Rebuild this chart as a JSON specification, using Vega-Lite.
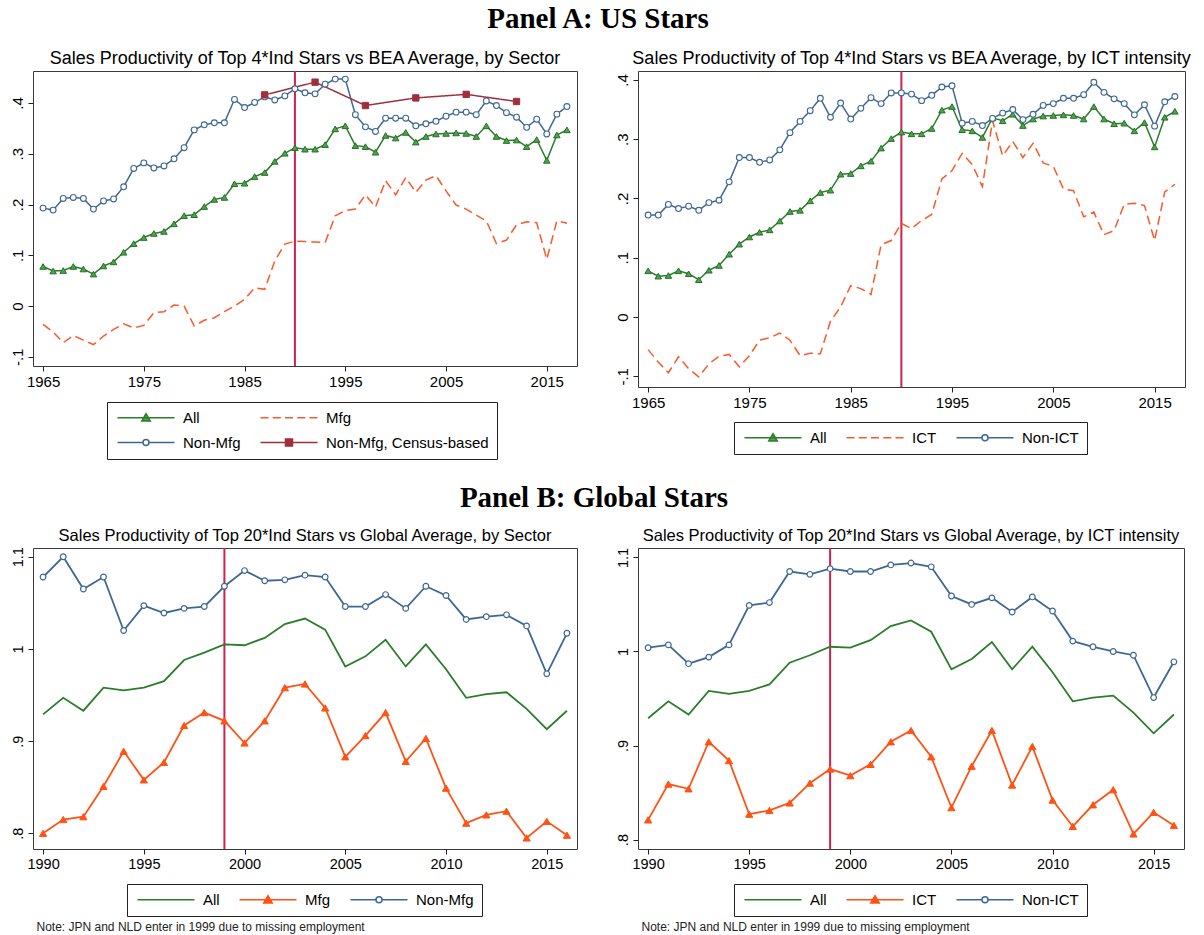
{
  "$schema": "https://vega.github.io/schema/vega-lite/v6.json",
  "background": "white",
  "padding": {"left": 9, "top": 5, "right": 4, "bottom": 2},
  "config": {
    "font": "Liberation Sans",
    "view": {"stroke": "#3a3a3a", "strokeWidth": 1},
    "axis": {"grid": false, "domain": false, "ticks": true, "tickSize": 5, "tickColor": "#222", "tickWidth": 1, "labelColor": "black", "labelFontSize": 15, "labelFont": "Liberation Sans", "labelPadding": 3},
    "title": {"font": "Liberation Sans", "fontWeight": "normal", "color": "black"},
    "legend": {"labelFont": "Liberation Sans", "labelFontSize": 15, "labelColor": "black", "strokeColor": "#222", "fillColor": "white", "padding": 8, "symbolSize": 100, "symbolStrokeWidth": 1.5, "symbolOpacity": 1, "labelOffset": 53, "columnPadding": 16, "rowPadding": 9, "labelLimit": 300}
  },
  "datasets": {
    "usAll": [
      {"year":1965,"series":"All","value":0.078},{"year":1966,"series":"All","value":0.069},{"year":1967,"series":"All","value":0.070},{"year":1968,"series":"All","value":0.078},{"year":1969,"series":"All","value":0.073},
      {"year":1970,"series":"All","value":0.063},{"year":1971,"series":"All","value":0.079},{"year":1972,"series":"All","value":0.087},{"year":1973,"series":"All","value":0.106},{"year":1974,"series":"All","value":0.123},
      {"year":1975,"series":"All","value":0.135},{"year":1976,"series":"All","value":0.143},{"year":1977,"series":"All","value":0.147},{"year":1978,"series":"All","value":0.162},{"year":1979,"series":"All","value":0.178},
      {"year":1980,"series":"All","value":0.180},{"year":1981,"series":"All","value":0.196},{"year":1982,"series":"All","value":0.210},{"year":1983,"series":"All","value":0.214},{"year":1984,"series":"All","value":0.241},
      {"year":1985,"series":"All","value":0.242},{"year":1986,"series":"All","value":0.255},{"year":1987,"series":"All","value":0.263},{"year":1988,"series":"All","value":0.285},{"year":1989,"series":"All","value":0.301},
      {"year":1990,"series":"All","value":0.312},{"year":1991,"series":"All","value":0.309},{"year":1992,"series":"All","value":0.309},{"year":1993,"series":"All","value":0.318},{"year":1994,"series":"All","value":0.349},
      {"year":1995,"series":"All","value":0.355},{"year":1996,"series":"All","value":0.316},{"year":1997,"series":"All","value":0.314},{"year":1998,"series":"All","value":0.303},{"year":1999,"series":"All","value":0.336},
      {"year":2000,"series":"All","value":0.331},{"year":2001,"series":"All","value":0.342},{"year":2002,"series":"All","value":0.323},{"year":2003,"series":"All","value":0.334},{"year":2004,"series":"All","value":0.339},
      {"year":2005,"series":"All","value":0.340},{"year":2006,"series":"All","value":0.341},{"year":2007,"series":"All","value":0.340},{"year":2008,"series":"All","value":0.334},{"year":2009,"series":"All","value":0.355},
      {"year":2010,"series":"All","value":0.334},{"year":2011,"series":"All","value":0.326},{"year":2012,"series":"All","value":0.327},{"year":2013,"series":"All","value":0.314},{"year":2014,"series":"All","value":0.328},
      {"year":2015,"series":"All","value":0.287},{"year":2016,"series":"All","value":0.337},{"year":2017,"series":"All","value":0.347}
    ],
    "usSector": [
      {"year":1965,"series":"Mfg","value":-0.036},{"year":1966,"series":"Mfg","value":-0.051},{"year":1967,"series":"Mfg","value":-0.072},{"year":1968,"series":"Mfg","value":-0.058},{"year":1969,"series":"Mfg","value":-0.067},
      {"year":1970,"series":"Mfg","value":-0.076},{"year":1971,"series":"Mfg","value":-0.059},{"year":1972,"series":"Mfg","value":-0.046},{"year":1973,"series":"Mfg","value":-0.035},{"year":1974,"series":"Mfg","value":-0.043},
      {"year":1975,"series":"Mfg","value":-0.038},{"year":1976,"series":"Mfg","value":-0.013},{"year":1977,"series":"Mfg","value":-0.011},{"year":1978,"series":"Mfg","value":0.002},{"year":1979,"series":"Mfg","value":0.000},
      {"year":1980,"series":"Mfg","value":-0.039},{"year":1981,"series":"Mfg","value":-0.028},{"year":1982,"series":"Mfg","value":-0.023},{"year":1983,"series":"Mfg","value":-0.011},{"year":1984,"series":"Mfg","value":0.000},
      {"year":1985,"series":"Mfg","value":0.013},{"year":1986,"series":"Mfg","value":0.036},{"year":1987,"series":"Mfg","value":0.033},{"year":1988,"series":"Mfg","value":0.089},{"year":1989,"series":"Mfg","value":0.122},
      {"year":1990,"series":"Mfg","value":0.128},{"year":1991,"series":"Mfg","value":0.127},{"year":1992,"series":"Mfg","value":0.126},{"year":1993,"series":"Mfg","value":0.125},{"year":1994,"series":"Mfg","value":0.178},
      {"year":1995,"series":"Mfg","value":0.188},{"year":1996,"series":"Mfg","value":0.191},{"year":1997,"series":"Mfg","value":0.219},{"year":1998,"series":"Mfg","value":0.195},{"year":1999,"series":"Mfg","value":0.247},
      {"year":2000,"series":"Mfg","value":0.219},{"year":2001,"series":"Mfg","value":0.253},{"year":2002,"series":"Mfg","value":0.224},{"year":2003,"series":"Mfg","value":0.248},{"year":2004,"series":"Mfg","value":0.257},
      {"year":2005,"series":"Mfg","value":0.227},{"year":2006,"series":"Mfg","value":0.199},{"year":2007,"series":"Mfg","value":0.191},{"year":2008,"series":"Mfg","value":0.179},{"year":2009,"series":"Mfg","value":0.168},
      {"year":2010,"series":"Mfg","value":0.123},{"year":2011,"series":"Mfg","value":0.130},{"year":2012,"series":"Mfg","value":0.160},{"year":2013,"series":"Mfg","value":0.166},{"year":2014,"series":"Mfg","value":0.164},
      {"year":2015,"series":"Mfg","value":0.092},{"year":2016,"series":"Mfg","value":0.168},{"year":2017,"series":"Mfg","value":0.163},
      {"year":1965,"series":"Non-Mfg","value":0.193},{"year":1966,"series":"Non-Mfg","value":0.189},{"year":1967,"series":"Non-Mfg","value":0.212},{"year":1968,"series":"Non-Mfg","value":0.214},{"year":1969,"series":"Non-Mfg","value":0.212},
      {"year":1970,"series":"Non-Mfg","value":0.191},{"year":1971,"series":"Non-Mfg","value":0.207},{"year":1972,"series":"Non-Mfg","value":0.211},{"year":1973,"series":"Non-Mfg","value":0.235},{"year":1974,"series":"Non-Mfg","value":0.271},
      {"year":1975,"series":"Non-Mfg","value":0.282},{"year":1976,"series":"Non-Mfg","value":0.272},{"year":1977,"series":"Non-Mfg","value":0.276},{"year":1978,"series":"Non-Mfg","value":0.290},{"year":1979,"series":"Non-Mfg","value":0.312},
      {"year":1980,"series":"Non-Mfg","value":0.347},{"year":1981,"series":"Non-Mfg","value":0.357},{"year":1982,"series":"Non-Mfg","value":0.361},{"year":1983,"series":"Non-Mfg","value":0.361},{"year":1984,"series":"Non-Mfg","value":0.407},
      {"year":1985,"series":"Non-Mfg","value":0.391},{"year":1986,"series":"Non-Mfg","value":0.401},{"year":1987,"series":"Non-Mfg","value":0.412},{"year":1988,"series":"Non-Mfg","value":0.406},{"year":1989,"series":"Non-Mfg","value":0.414},
      {"year":1990,"series":"Non-Mfg","value":0.428},{"year":1991,"series":"Non-Mfg","value":0.420},{"year":1992,"series":"Non-Mfg","value":0.418},{"year":1993,"series":"Non-Mfg","value":0.437},{"year":1994,"series":"Non-Mfg","value":0.447},
      {"year":1995,"series":"Non-Mfg","value":0.447},{"year":1996,"series":"Non-Mfg","value":0.377},{"year":1997,"series":"Non-Mfg","value":0.353},{"year":1998,"series":"Non-Mfg","value":0.344},{"year":1999,"series":"Non-Mfg","value":0.370},
      {"year":2000,"series":"Non-Mfg","value":0.370},{"year":2001,"series":"Non-Mfg","value":0.370},{"year":2002,"series":"Non-Mfg","value":0.355},{"year":2003,"series":"Non-Mfg","value":0.359},{"year":2004,"series":"Non-Mfg","value":0.364},
      {"year":2005,"series":"Non-Mfg","value":0.374},{"year":2006,"series":"Non-Mfg","value":0.382},{"year":2007,"series":"Non-Mfg","value":0.382},{"year":2008,"series":"Non-Mfg","value":0.377},{"year":2009,"series":"Non-Mfg","value":0.404},
      {"year":2010,"series":"Non-Mfg","value":0.395},{"year":2011,"series":"Non-Mfg","value":0.381},{"year":2012,"series":"Non-Mfg","value":0.372},{"year":2013,"series":"Non-Mfg","value":0.352},{"year":2014,"series":"Non-Mfg","value":0.368},
      {"year":2015,"series":"Non-Mfg","value":0.339},{"year":2016,"series":"Non-Mfg","value":0.378},{"year":2017,"series":"Non-Mfg","value":0.393},
      {"year":1987,"series":"Non-Mfg, Census-based","value":0.416},{"year":1992,"series":"Non-Mfg, Census-based","value":0.441},{"year":1997,"series":"Non-Mfg, Census-based","value":0.395},
      {"year":2002,"series":"Non-Mfg, Census-based","value":0.410},{"year":2007,"series":"Non-Mfg, Census-based","value":0.417},{"year":2012,"series":"Non-Mfg, Census-based","value":0.403}
    ],
    "usIct": [
      {"year":1965,"series":"ICT","value":-0.055},{"year":1966,"series":"ICT","value":-0.076},{"year":1967,"series":"ICT","value":-0.094},{"year":1968,"series":"ICT","value":-0.067},{"year":1969,"series":"ICT","value":-0.087},
      {"year":1970,"series":"ICT","value":-0.101},{"year":1971,"series":"ICT","value":-0.079},{"year":1972,"series":"ICT","value":-0.066},{"year":1973,"series":"ICT","value":-0.063},{"year":1974,"series":"ICT","value":-0.084},
      {"year":1975,"series":"ICT","value":-0.065},{"year":1976,"series":"ICT","value":-0.039},{"year":1977,"series":"ICT","value":-0.035},{"year":1978,"series":"ICT","value":-0.027},{"year":1979,"series":"ICT","value":-0.039},
      {"year":1980,"series":"ICT","value":-0.065},{"year":1981,"series":"ICT","value":-0.061},{"year":1982,"series":"ICT","value":-0.062},{"year":1983,"series":"ICT","value":-0.007},{"year":1984,"series":"ICT","value":0.017},
      {"year":1985,"series":"ICT","value":0.053},{"year":1986,"series":"ICT","value":0.048},{"year":1987,"series":"ICT","value":0.038},{"year":1988,"series":"ICT","value":0.122},{"year":1989,"series":"ICT","value":0.129},
      {"year":1990,"series":"ICT","value":0.158},{"year":1991,"series":"ICT","value":0.149},{"year":1992,"series":"ICT","value":0.163},{"year":1993,"series":"ICT","value":0.173},{"year":1994,"series":"ICT","value":0.233},
      {"year":1995,"series":"ICT","value":0.247},{"year":1996,"series":"ICT","value":0.276},{"year":1997,"series":"ICT","value":0.257},{"year":1998,"series":"ICT","value":0.220},{"year":1999,"series":"ICT","value":0.331},
      {"year":2000,"series":"ICT","value":0.272},{"year":2001,"series":"ICT","value":0.296},{"year":2002,"series":"ICT","value":0.269},{"year":2003,"series":"ICT","value":0.293},{"year":2004,"series":"ICT","value":0.260},
      {"year":2005,"series":"ICT","value":0.254},{"year":2006,"series":"ICT","value":0.216},{"year":2007,"series":"ICT","value":0.213},{"year":2008,"series":"ICT","value":0.169},{"year":2009,"series":"ICT","value":0.177},
      {"year":2010,"series":"ICT","value":0.139},{"year":2011,"series":"ICT","value":0.146},{"year":2012,"series":"ICT","value":0.190},{"year":2013,"series":"ICT","value":0.192},{"year":2014,"series":"ICT","value":0.188},
      {"year":2015,"series":"ICT","value":0.129},{"year":2016,"series":"ICT","value":0.211},{"year":2017,"series":"ICT","value":0.224},
      {"year":1965,"series":"Non-ICT","value":0.172},{"year":1966,"series":"Non-ICT","value":0.172},{"year":1967,"series":"Non-ICT","value":0.190},{"year":1968,"series":"Non-ICT","value":0.183},{"year":1969,"series":"Non-ICT","value":0.187},
      {"year":1970,"series":"Non-ICT","value":0.180},{"year":1971,"series":"Non-ICT","value":0.193},{"year":1972,"series":"Non-ICT","value":0.197},{"year":1973,"series":"Non-ICT","value":0.228},{"year":1974,"series":"Non-ICT","value":0.269},
      {"year":1975,"series":"Non-ICT","value":0.269},{"year":1976,"series":"Non-ICT","value":0.261},{"year":1977,"series":"Non-ICT","value":0.265},{"year":1978,"series":"Non-ICT","value":0.282},{"year":1979,"series":"Non-ICT","value":0.311},
      {"year":1980,"series":"Non-ICT","value":0.330},{"year":1981,"series":"Non-ICT","value":0.348},{"year":1982,"series":"Non-ICT","value":0.369},{"year":1983,"series":"Non-ICT","value":0.337},{"year":1984,"series":"Non-ICT","value":0.361},
      {"year":1985,"series":"Non-ICT","value":0.334},{"year":1986,"series":"Non-ICT","value":0.352},{"year":1987,"series":"Non-ICT","value":0.370},{"year":1988,"series":"Non-ICT","value":0.360},{"year":1989,"series":"Non-ICT","value":0.378},
      {"year":1990,"series":"Non-ICT","value":0.378},{"year":1991,"series":"Non-ICT","value":0.376},{"year":1992,"series":"Non-ICT","value":0.365},{"year":1993,"series":"Non-ICT","value":0.374},{"year":1994,"series":"Non-ICT","value":0.388},
      {"year":1995,"series":"Non-ICT","value":0.390},{"year":1996,"series":"Non-ICT","value":0.327},{"year":1997,"series":"Non-ICT","value":0.330},{"year":1998,"series":"Non-ICT","value":0.323},{"year":1999,"series":"Non-ICT","value":0.335},
      {"year":2000,"series":"Non-ICT","value":0.344},{"year":2001,"series":"Non-ICT","value":0.350},{"year":2002,"series":"Non-ICT","value":0.333},{"year":2003,"series":"Non-ICT","value":0.342},{"year":2004,"series":"Non-ICT","value":0.357},
      {"year":2005,"series":"Non-ICT","value":0.360},{"year":2006,"series":"Non-ICT","value":0.369},{"year":2007,"series":"Non-ICT","value":0.369},{"year":2008,"series":"Non-ICT","value":0.375},{"year":2009,"series":"Non-ICT","value":0.396},
      {"year":2010,"series":"Non-ICT","value":0.379},{"year":2011,"series":"Non-ICT","value":0.368},{"year":2012,"series":"Non-ICT","value":0.360},{"year":2013,"series":"Non-ICT","value":0.341},{"year":2014,"series":"Non-ICT","value":0.358},
      {"year":2015,"series":"Non-ICT","value":0.322},{"year":2016,"series":"Non-ICT","value":0.363},{"year":2017,"series":"Non-ICT","value":0.372}
    ],
    "glAll": [
      {"year":1990,"series":"All","value":0.929},{"year":1991,"series":"All","value":0.947},{"year":1992,"series":"All","value":0.933},{"year":1993,"series":"All","value":0.958},{"year":1994,"series":"All","value":0.955},
      {"year":1995,"series":"All","value":0.958},{"year":1996,"series":"All","value":0.965},{"year":1997,"series":"All","value":0.988},{"year":1998,"series":"All","value":0.996},{"year":1999,"series":"All","value":1.005},
      {"year":2000,"series":"All","value":1.004},{"year":2001,"series":"All","value":1.012},{"year":2002,"series":"All","value":1.027},{"year":2003,"series":"All","value":1.033},{"year":2004,"series":"All","value":1.021},
      {"year":2005,"series":"All","value":0.981},{"year":2006,"series":"All","value":0.992},{"year":2007,"series":"All","value":1.010},{"year":2008,"series":"All","value":0.981},{"year":2009,"series":"All","value":1.005},
      {"year":2010,"series":"All","value":0.978},{"year":2011,"series":"All","value":0.947},{"year":2012,"series":"All","value":0.951},{"year":2013,"series":"All","value":0.953},{"year":2014,"series":"All","value":0.935},
      {"year":2015,"series":"All","value":0.913},{"year":2016,"series":"All","value":0.933}
    ],
    "glSector": [
      {"year":1990,"series":"Mfg","value":0.800},{"year":1991,"series":"Mfg","value":0.815},{"year":1992,"series":"Mfg","value":0.818},{"year":1993,"series":"Mfg","value":0.851},{"year":1994,"series":"Mfg","value":0.889},
      {"year":1995,"series":"Mfg","value":0.858},{"year":1996,"series":"Mfg","value":0.877},{"year":1997,"series":"Mfg","value":0.917},{"year":1998,"series":"Mfg","value":0.931},{"year":1999,"series":"Mfg","value":0.922},
      {"year":2000,"series":"Mfg","value":0.898},{"year":2001,"series":"Mfg","value":0.922},{"year":2002,"series":"Mfg","value":0.958},{"year":2003,"series":"Mfg","value":0.962},{"year":2004,"series":"Mfg","value":0.936},
      {"year":2005,"series":"Mfg","value":0.883},{"year":2006,"series":"Mfg","value":0.906},{"year":2007,"series":"Mfg","value":0.931},{"year":2008,"series":"Mfg","value":0.878},{"year":2009,"series":"Mfg","value":0.903},
      {"year":2010,"series":"Mfg","value":0.849},{"year":2011,"series":"Mfg","value":0.811},{"year":2012,"series":"Mfg","value":0.820},{"year":2013,"series":"Mfg","value":0.824},{"year":2014,"series":"Mfg","value":0.795},
      {"year":2015,"series":"Mfg","value":0.813},{"year":2016,"series":"Mfg","value":0.798},
      {"year":1990,"series":"Non-Mfg","value":1.078},{"year":1991,"series":"Non-Mfg","value":1.100},{"year":1992,"series":"Non-Mfg","value":1.065},{"year":1993,"series":"Non-Mfg","value":1.078},{"year":1994,"series":"Non-Mfg","value":1.020},
      {"year":1995,"series":"Non-Mfg","value":1.047},{"year":1996,"series":"Non-Mfg","value":1.039},{"year":1997,"series":"Non-Mfg","value":1.044},{"year":1998,"series":"Non-Mfg","value":1.046},{"year":1999,"series":"Non-Mfg","value":1.068},
      {"year":2000,"series":"Non-Mfg","value":1.085},{"year":2001,"series":"Non-Mfg","value":1.074},{"year":2002,"series":"Non-Mfg","value":1.075},{"year":2003,"series":"Non-Mfg","value":1.080},{"year":2004,"series":"Non-Mfg","value":1.078},
      {"year":2005,"series":"Non-Mfg","value":1.046},{"year":2006,"series":"Non-Mfg","value":1.046},{"year":2007,"series":"Non-Mfg","value":1.059},{"year":2008,"series":"Non-Mfg","value":1.044},{"year":2009,"series":"Non-Mfg","value":1.068},
      {"year":2010,"series":"Non-Mfg","value":1.058},{"year":2011,"series":"Non-Mfg","value":1.032},{"year":2012,"series":"Non-Mfg","value":1.035},{"year":2013,"series":"Non-Mfg","value":1.037},{"year":2014,"series":"Non-Mfg","value":1.025},
      {"year":2015,"series":"Non-Mfg","value":0.973},{"year":2016,"series":"Non-Mfg","value":1.017}
    ],
    "glIct": [
      {"year":1990,"series":"ICT","value":0.821},{"year":1991,"series":"ICT","value":0.859},{"year":1992,"series":"ICT","value":0.854},{"year":1993,"series":"ICT","value":0.904},{"year":1994,"series":"ICT","value":0.884},
      {"year":1995,"series":"ICT","value":0.827},{"year":1996,"series":"ICT","value":0.831},{"year":1997,"series":"ICT","value":0.839},{"year":1998,"series":"ICT","value":0.860},{"year":1999,"series":"ICT","value":0.875},
      {"year":2000,"series":"ICT","value":0.868},{"year":2001,"series":"ICT","value":0.880},{"year":2002,"series":"ICT","value":0.904},{"year":2003,"series":"ICT","value":0.916},{"year":2004,"series":"ICT","value":0.888},
      {"year":2005,"series":"ICT","value":0.834},{"year":2006,"series":"ICT","value":0.878},{"year":2007,"series":"ICT","value":0.916},{"year":2008,"series":"ICT","value":0.858},{"year":2009,"series":"ICT","value":0.899},
      {"year":2010,"series":"ICT","value":0.842},{"year":2011,"series":"ICT","value":0.814},{"year":2012,"series":"ICT","value":0.837},{"year":2013,"series":"ICT","value":0.853},{"year":2014,"series":"ICT","value":0.806},
      {"year":2015,"series":"ICT","value":0.829},{"year":2016,"series":"ICT","value":0.815},
      {"year":1990,"series":"Non-ICT","value":1.004},{"year":1991,"series":"Non-ICT","value":1.007},{"year":1992,"series":"Non-ICT","value":0.987},{"year":1993,"series":"Non-ICT","value":0.994},{"year":1994,"series":"Non-ICT","value":1.007},
      {"year":1995,"series":"Non-ICT","value":1.049},{"year":1996,"series":"Non-ICT","value":1.052},{"year":1997,"series":"Non-ICT","value":1.085},{"year":1998,"series":"Non-ICT","value":1.082},{"year":1999,"series":"Non-ICT","value":1.088},
      {"year":2000,"series":"Non-ICT","value":1.085},{"year":2001,"series":"Non-ICT","value":1.085},{"year":2002,"series":"Non-ICT","value":1.092},{"year":2003,"series":"Non-ICT","value":1.094},{"year":2004,"series":"Non-ICT","value":1.090},
      {"year":2005,"series":"Non-ICT","value":1.059},{"year":2006,"series":"Non-ICT","value":1.050},{"year":2007,"series":"Non-ICT","value":1.057},{"year":2008,"series":"Non-ICT","value":1.042},{"year":2009,"series":"Non-ICT","value":1.058},
      {"year":2010,"series":"Non-ICT","value":1.043},{"year":2011,"series":"Non-ICT","value":1.011},{"year":2012,"series":"Non-ICT","value":1.005},{"year":2013,"series":"Non-ICT","value":1.000},{"year":2014,"series":"Non-ICT","value":0.996},
      {"year":2015,"series":"Non-ICT","value":0.951},{"year":2016,"series":"Non-ICT","value":0.989}
    ]
  },
  "spacing": 24,
  "resolve": {"scale": {"x": "independent", "y": "independent", "color": "independent", "strokeDash": "independent", "shape": "independent", "fill": "independent", "stroke": "independent"}},
  "vconcat": [
    {
      "title": {"text": "Panel A: US Stars", "font": "Liberation Serif", "fontSize": 29, "fontWeight": "bold", "anchor": "middle", "baseline": "alphabetic", "offset": -7.5, "dx": -3},
      "spacing": 36,
      "resolve": {"scale": {"x": "independent", "y": "independent", "color": "independent", "strokeDash": "independent", "shape": "independent", "fill": "independent", "stroke": "independent"}},
      "hconcat": [
        {
          "width": 544,
          "height": 295,
          "title": {"text": "Sales Productivity of Top 4*Ind Stars vs BEA Average, by Sector", "fontSize": 18, "offset": -12, "baseline": "alphabetic", "frame": "group", "anchor": "middle"},
          "encoding": {
            "x": {"field": "year", "type": "quantitative", "scale": {"domain": [1964, 2018], "nice": false, "zero": false}, "axis": {"values": [1965, 1975, 1985, 1995, 2005, 2015], "format": "d", "title": null}}
          },
          "layer": [
            {"data": {"values": [{"year": 1990}]}, "mark": {"type": "rule", "color": "#cc2250", "strokeWidth": 2}, "encoding": {}},
            {
              "data": {"name": "usAll"},
              "mark": {"type": "line", "strokeWidth": 1.5, "color": "#2a7d2a"},
              "encoding": {
                "y": {"field": "value", "type": "quantitative", "scale": {"domain": [-0.118, 0.463], "nice": false, "zero": false}, "axis": {"values": [-0.1, 0, 0.1, 0.2, 0.3, 0.4], "labelAngle": 270, "labelExpr": "(datum.value < 0 ? '-' : '') + replace(format(abs(datum.value), '.1~f'), '0.', '.')", "title": null}}
              }
            },
            {
              "data": {"name": "usSector"},
              "mark": {"type": "line", "strokeWidth": 1.5},
              "encoding": {
                "y": {"field": "value", "type": "quantitative", "scale": {"domain": [-0.118, 0.463], "nice": false, "zero": false}},
                "color": {"field": "series", "type": "nominal", "scale": {"domain": ["Mfg", "Non-Mfg", "Non-Mfg, Census-based"], "range": ["#fa5a2a", "#3d6893", "#a02f3e"]}, "legend": null},
                "strokeDash": {"field": "series", "type": "nominal", "scale": {"domain": ["Mfg", "Non-Mfg", "Non-Mfg, Census-based"], "range": [[9, 5], [1, 0], [1, 0]]}, "legend": null}
              }
            },
            {
              "data": {"name": "usAll"},
              "mark": {"type": "point", "shape": "triangle-up", "filled": true, "fill": "#4fa34f", "stroke": "#237023", "strokeWidth": 1, "size": 42, "opacity": 1},
              "encoding": {"y": {"field": "value", "type": "quantitative", "scale": {"domain": [-0.118, 0.463], "nice": false, "zero": false}}}
            },
            {
              "data": {"name": "usSector"},
              "transform": [{"filter": "datum.series === 'Non-Mfg'"}],
              "mark": {"type": "point", "shape": "circle", "filled": true, "fill": "white", "stroke": "#3d6893", "strokeWidth": 1.1, "size": 34, "opacity": 1},
              "encoding": {"y": {"field": "value", "type": "quantitative", "scale": {"domain": [-0.118, 0.463], "nice": false, "zero": false}}}
            },
            {
              "data": {"name": "usSector"},
              "transform": [{"filter": "datum.series === 'Non-Mfg, Census-based'"}],
              "mark": {"type": "point", "shape": "square", "filled": true, "fill": "#a02f3e", "stroke": "#a02f3e", "strokeWidth": 1, "size": 40, "opacity": 1},
              "encoding": {"y": {"field": "value", "type": "quantitative", "scale": {"domain": [-0.118, 0.463], "nice": false, "zero": false}}}
            },
            {
              "data": {"name": "usSector"},
              "transform": [{"filter": "datum.year < 0"}],
              "mark": {"type": "point", "filled": true, "opacity": 0},
              "encoding": {
                "y": {"field": "value", "type": "quantitative", "scale": {"domain": [-0.118, 0.463], "nice": false, "zero": false}},
                "shape": {"field": "series", "type": "nominal", "scale": {"domain": ["All", "Mfg", "Non-Mfg", "Non-Mfg, Census-based"], "range": ["M-1,0H10.4M4.7,-0.8L5.55,0.65L3.85,0.65Z", "M-1,0H0.6M1.45,0H3.05M3.9,0H5.5M6.35,0H7.95M8.8,0H10.4", "M-1,0H4.1M5.3,0H10.4M4.1,0A0.6,0.6 0 1,1 5.3,0A0.6,0.6 0 1,1 4.1,0Z", "M-1,0H10.4M4.0,-0.7H5.4V0.7H4.0Z"]},
                  "legend": {"orient": "none", "legendX": 74, "legendY": 331, "direction": "horizontal", "columns": 2, "title": null}},
                "stroke": {"field": "series", "type": "nominal", "scale": {"domain": ["All", "Mfg", "Non-Mfg", "Non-Mfg, Census-based"], "range": ["#2a7d2a", "#fa5a2a", "#3d6893", "#a02f3e"]},
                  "legend": {"orient": "none", "legendX": 74, "legendY": 331, "direction": "horizontal", "columns": 2, "title": null}},
                "fill": {"field": "series", "type": "nominal", "scale": {"domain": ["All", "Mfg", "Non-Mfg", "Non-Mfg, Census-based"], "range": ["#4fa34f", "transparent", "white", "#a02f3e"]},
                  "legend": {"orient": "none", "legendX": 74, "legendY": 331, "direction": "horizontal", "columns": 2, "title": null}}
              }
            }
          ]
        },
        {
          "width": 547,
          "height": 316,
          "title": {"text": "Sales Productivity of Top 4*Ind Stars vs BEA Average, by ICT intensity", "fontSize": 18, "offset": -12, "baseline": "alphabetic", "frame": "group", "anchor": "middle"},
          "encoding": {
            "x": {"field": "year", "type": "quantitative", "scale": {"domain": [1964, 2018], "nice": false, "zero": false}, "axis": {"values": [1965, 1975, 1985, 1995, 2005, 2015], "format": "d", "title": null}}
          },
          "layer": [
            {"data": {"values": [{"year": 1990}]}, "mark": {"type": "rule", "color": "#cc2250", "strokeWidth": 2}, "encoding": {}},
            {
              "data": {"name": "usAll"},
              "mark": {"type": "line", "strokeWidth": 1.5, "color": "#2a7d2a"},
              "encoding": {
                "y": {"field": "value", "type": "quantitative", "scale": {"domain": [-0.118, 0.415], "nice": false, "zero": false}, "axis": {"values": [-0.1, 0, 0.1, 0.2, 0.3, 0.4], "labelAngle": 270, "labelExpr": "(datum.value < 0 ? '-' : '') + replace(format(abs(datum.value), '.1~f'), '0.', '.')", "title": null}}
              }
            },
            {
              "data": {"name": "usIct"},
              "mark": {"type": "line", "strokeWidth": 1.5},
              "encoding": {
                "y": {"field": "value", "type": "quantitative", "scale": {"domain": [-0.118, 0.415], "nice": false, "zero": false}},
                "color": {"field": "series", "type": "nominal", "scale": {"domain": ["ICT", "Non-ICT"], "range": ["#fa5a2a", "#3d6893"]}, "legend": null},
                "strokeDash": {"field": "series", "type": "nominal", "scale": {"domain": ["ICT", "Non-ICT"], "range": [[9, 5], [1, 0]]}, "legend": null}
              }
            },
            {
              "data": {"name": "usAll"},
              "mark": {"type": "point", "shape": "triangle-up", "filled": true, "fill": "#4fa34f", "stroke": "#237023", "strokeWidth": 1, "size": 42, "opacity": 1},
              "encoding": {"y": {"field": "value", "type": "quantitative", "scale": {"domain": [-0.118, 0.415], "nice": false, "zero": false}}}
            },
            {
              "data": {"name": "usIct"},
              "transform": [{"filter": "datum.series === 'Non-ICT'"}],
              "mark": {"type": "point", "shape": "circle", "filled": true, "fill": "white", "stroke": "#3d6893", "strokeWidth": 1.1, "size": 34, "opacity": 1},
              "encoding": {"y": {"field": "value", "type": "quantitative", "scale": {"domain": [-0.118, 0.415], "nice": false, "zero": false}}}
            },
            {
              "data": {"name": "usIct"},
              "transform": [{"filter": "datum.year < 0"}],
              "mark": {"type": "point", "filled": true, "opacity": 0},
              "encoding": {
                "y": {"field": "value", "type": "quantitative", "scale": {"domain": [-0.118, 0.415], "nice": false, "zero": false}},
                "shape": {"field": "series", "type": "nominal", "scale": {"domain": ["All", "ICT", "Non-ICT"], "range": ["M-1,0H10.4M4.7,-0.8L5.55,0.65L3.85,0.65Z", "M-1,0H0.6M1.45,0H3.05M3.9,0H5.5M6.35,0H7.95M8.8,0H10.4", "M-1,0H4.1M5.3,0H10.4M4.1,0A0.6,0.6 0 1,1 5.3,0A0.6,0.6 0 1,1 4.1,0Z"]},
                  "legend": {"orient": "none", "legendX": 96, "legendY": 351, "direction": "horizontal", "columns": 3, "title": null}},
                "stroke": {"field": "series", "type": "nominal", "scale": {"domain": ["All", "ICT", "Non-ICT"], "range": ["#2a7d2a", "#fa5a2a", "#3d6893"]},
                  "legend": {"orient": "none", "legendX": 96, "legendY": 351, "direction": "horizontal", "columns": 3, "title": null}},
                "fill": {"field": "series", "type": "nominal", "scale": {"domain": ["All", "ICT", "Non-ICT"], "range": ["#4fa34f", "transparent", "white"]},
                  "legend": {"orient": "none", "legendX": 96, "legendY": 351, "direction": "horizontal", "columns": 3, "title": null}}
              }
            }
          ]
        }
      ]
    },
    {
      "title": {"text": "Panel B: Global Stars", "font": "Liberation Serif", "fontSize": 29, "fontWeight": "bold", "anchor": "middle", "baseline": "alphabetic", "offset": -9, "dx": -3},
      "spacing": 36,
      "resolve": {"scale": {"x": "independent", "y": "independent", "color": "independent", "strokeDash": "independent", "shape": "independent", "fill": "independent", "stroke": "independent"}},
      "hconcat": [
        {
          "width": 544,
          "height": 301,
          "title": {"text": "Sales Productivity of Top 20*Ind Stars vs Global Average, by Sector", "fontSize": 16.5, "offset": -10.5, "baseline": "alphabetic", "frame": "group", "anchor": "middle"},
          "encoding": {
            "x": {"field": "year", "type": "quantitative", "scale": {"domain": [1989.5, 2016.5], "nice": false, "zero": false},
              "axis": {"values": [1990, 1995, 2000, 2005, 2010, 2015], "format": "d", "labelFontSize": 14.5, "title": "Note: JPN and NLD enter in 1999 due to missing employment", "titleFontSize": 12, "titleFontWeight": "normal", "titleColor": "#222", "titleAnchor": "start", "titleAlign": "left", "titleBaseline": "alphabetic", "titleX": 3, "titleY": 81}}
          },
          "layer": [
            {"data": {"values": [{"year": 1999}]}, "mark": {"type": "rule", "color": "#cc2250", "strokeWidth": 2}, "encoding": {}},
            {
              "data": {"name": "glAll"},
              "mark": {"type": "line", "strokeWidth": 1.8, "color": "#2a7d2a"},
              "encoding": {
                "y": {"field": "value", "type": "quantitative", "scale": {"domain": [0.783, 1.1095], "nice": false, "zero": false}, "axis": {"values": [0.8, 0.9, 1, 1.1], "labelAngle": 270, "labelFontSize": 14.5, "labelExpr": "(datum.value < 0 ? '-' : '') + replace(format(abs(datum.value), '.1~f'), '0.', '.')", "title": null}}
              }
            },
            {
              "data": {"name": "glSector"},
              "mark": {"type": "line", "strokeWidth": 1.8},
              "encoding": {
                "y": {"field": "value", "type": "quantitative", "scale": {"domain": [0.783, 1.1095], "nice": false, "zero": false}},
                "color": {"field": "series", "type": "nominal", "scale": {"domain": ["Mfg", "Non-Mfg"], "range": ["#ff5214", "#3d6893"]}, "legend": null}
              }
            },
            {
              "data": {"name": "glSector"},
              "transform": [{"filter": "datum.series === 'Mfg'"}],
              "mark": {"type": "point", "shape": "triangle-up", "filled": true, "fill": "#ff5214", "stroke": "#ff5214", "strokeWidth": 1, "size": 52, "opacity": 1},
              "encoding": {"y": {"field": "value", "type": "quantitative", "scale": {"domain": [0.783, 1.1095], "nice": false, "zero": false}}}
            },
            {
              "data": {"name": "glSector"},
              "transform": [{"filter": "datum.series === 'Non-Mfg'"}],
              "mark": {"type": "point", "shape": "circle", "filled": true, "fill": "white", "stroke": "#3d6893", "strokeWidth": 1.2, "size": 32, "opacity": 1},
              "encoding": {"y": {"field": "value", "type": "quantitative", "scale": {"domain": [0.783, 1.1095], "nice": false, "zero": false}}}
            },
            {
              "data": {"name": "glSector"},
              "transform": [{"filter": "datum.year < 0"}],
              "mark": {"type": "point", "filled": true, "opacity": 0},
              "encoding": {
                "y": {"field": "value", "type": "quantitative", "scale": {"domain": [0.783, 1.1095], "nice": false, "zero": false}},
                "shape": {"field": "series", "type": "nominal", "scale": {"domain": ["All", "Mfg", "Non-Mfg"], "range": ["M-1,0H10.4", "M-1,0H10.4M4.7,-0.8L5.55,0.65L3.85,0.65Z", "M-1,0H4.1M5.3,0H10.4M4.1,0A0.6,0.6 0 1,1 5.3,0A0.6,0.6 0 1,1 4.1,0Z"]},
                  "legend": {"orient": "none", "legendX": 94, "legendY": 336, "direction": "horizontal", "columns": 3, "title": null}},
                "stroke": {"field": "series", "type": "nominal", "scale": {"domain": ["All", "Mfg", "Non-Mfg"], "range": ["#2a7d2a", "#ff5214", "#3d6893"]},
                  "legend": {"orient": "none", "legendX": 94, "legendY": 336, "direction": "horizontal", "columns": 3, "title": null}},
                "fill": {"field": "series", "type": "nominal", "scale": {"domain": ["All", "Mfg", "Non-Mfg"], "range": ["transparent", "#ff5214", "white"]},
                  "legend": {"orient": "none", "legendX": 94, "legendY": 336, "direction": "horizontal", "columns": 3, "title": null}}
              }
            }
          ]
        },
        {
          "width": 546,
          "height": 301,
          "title": {"text": "Sales Productivity of Top 20*Ind Stars vs Global Average, by ICT intensity", "fontSize": 16.5, "offset": -10.5, "baseline": "alphabetic", "frame": "group", "anchor": "middle"},
          "encoding": {
            "x": {"field": "year", "type": "quantitative", "scale": {"domain": [1989.5, 2016.5], "nice": false, "zero": false},
              "axis": {"values": [1990, 1995, 2000, 2005, 2010, 2015], "format": "d", "labelFontSize": 14.5, "title": "Note: JPN and NLD enter in 1999 due to missing employment", "titleFontSize": 12, "titleFontWeight": "normal", "titleColor": "#222", "titleAnchor": "start", "titleAlign": "left", "titleBaseline": "alphabetic", "titleX": 3, "titleY": 81}}
          },
          "layer": [
            {"data": {"values": [{"year": 1999}]}, "mark": {"type": "rule", "color": "#cc2250", "strokeWidth": 2}, "encoding": {}},
            {
              "data": {"name": "glAll"},
              "mark": {"type": "line", "strokeWidth": 1.8, "color": "#2a7d2a"},
              "encoding": {
                "y": {"field": "value", "type": "quantitative", "scale": {"domain": [0.79, 1.11], "nice": false, "zero": false}, "axis": {"values": [0.8, 0.9, 1, 1.1], "labelAngle": 270, "labelFontSize": 14.5, "labelExpr": "(datum.value < 0 ? '-' : '') + replace(format(abs(datum.value), '.1~f'), '0.', '.')", "title": null}}
              }
            },
            {
              "data": {"name": "glIct"},
              "mark": {"type": "line", "strokeWidth": 1.8},
              "encoding": {
                "y": {"field": "value", "type": "quantitative", "scale": {"domain": [0.79, 1.11], "nice": false, "zero": false}},
                "color": {"field": "series", "type": "nominal", "scale": {"domain": ["ICT", "Non-ICT"], "range": ["#ff5214", "#3d6893"]}, "legend": null}
              }
            },
            {
              "data": {"name": "glIct"},
              "transform": [{"filter": "datum.series === 'ICT'"}],
              "mark": {"type": "point", "shape": "triangle-up", "filled": true, "fill": "#ff5214", "stroke": "#ff5214", "strokeWidth": 1, "size": 52, "opacity": 1},
              "encoding": {"y": {"field": "value", "type": "quantitative", "scale": {"domain": [0.79, 1.11], "nice": false, "zero": false}}}
            },
            {
              "data": {"name": "glIct"},
              "transform": [{"filter": "datum.series === 'Non-ICT'"}],
              "mark": {"type": "point", "shape": "circle", "filled": true, "fill": "white", "stroke": "#3d6893", "strokeWidth": 1.2, "size": 32, "opacity": 1},
              "encoding": {"y": {"field": "value", "type": "quantitative", "scale": {"domain": [0.79, 1.11], "nice": false, "zero": false}}}
            },
            {
              "data": {"name": "glIct"},
              "transform": [{"filter": "datum.year < 0"}],
              "mark": {"type": "point", "filled": true, "opacity": 0},
              "encoding": {
                "y": {"field": "value", "type": "quantitative", "scale": {"domain": [0.79, 1.11], "nice": false, "zero": false}},
                "shape": {"field": "series", "type": "nominal", "scale": {"domain": ["All", "ICT", "Non-ICT"], "range": ["M-1,0H10.4", "M-1,0H10.4M4.7,-0.8L5.55,0.65L3.85,0.65Z", "M-1,0H4.1M5.3,0H10.4M4.1,0A0.6,0.6 0 1,1 5.3,0A0.6,0.6 0 1,1 4.1,0Z"]},
                  "legend": {"orient": "none", "legendX": 96, "legendY": 336, "direction": "horizontal", "columns": 3, "title": null}},
                "stroke": {"field": "series", "type": "nominal", "scale": {"domain": ["All", "ICT", "Non-ICT"], "range": ["#2a7d2a", "#ff5214", "#3d6893"]},
                  "legend": {"orient": "none", "legendX": 96, "legendY": 336, "direction": "horizontal", "columns": 3, "title": null}},
                "fill": {"field": "series", "type": "nominal", "scale": {"domain": ["All", "ICT", "Non-ICT"], "range": ["transparent", "#ff5214", "white"]},
                  "legend": {"orient": "none", "legendX": 96, "legendY": 336, "direction": "horizontal", "columns": 3, "title": null}}
              }
            }
          ]
        }
      ]
    }
  ]
}
